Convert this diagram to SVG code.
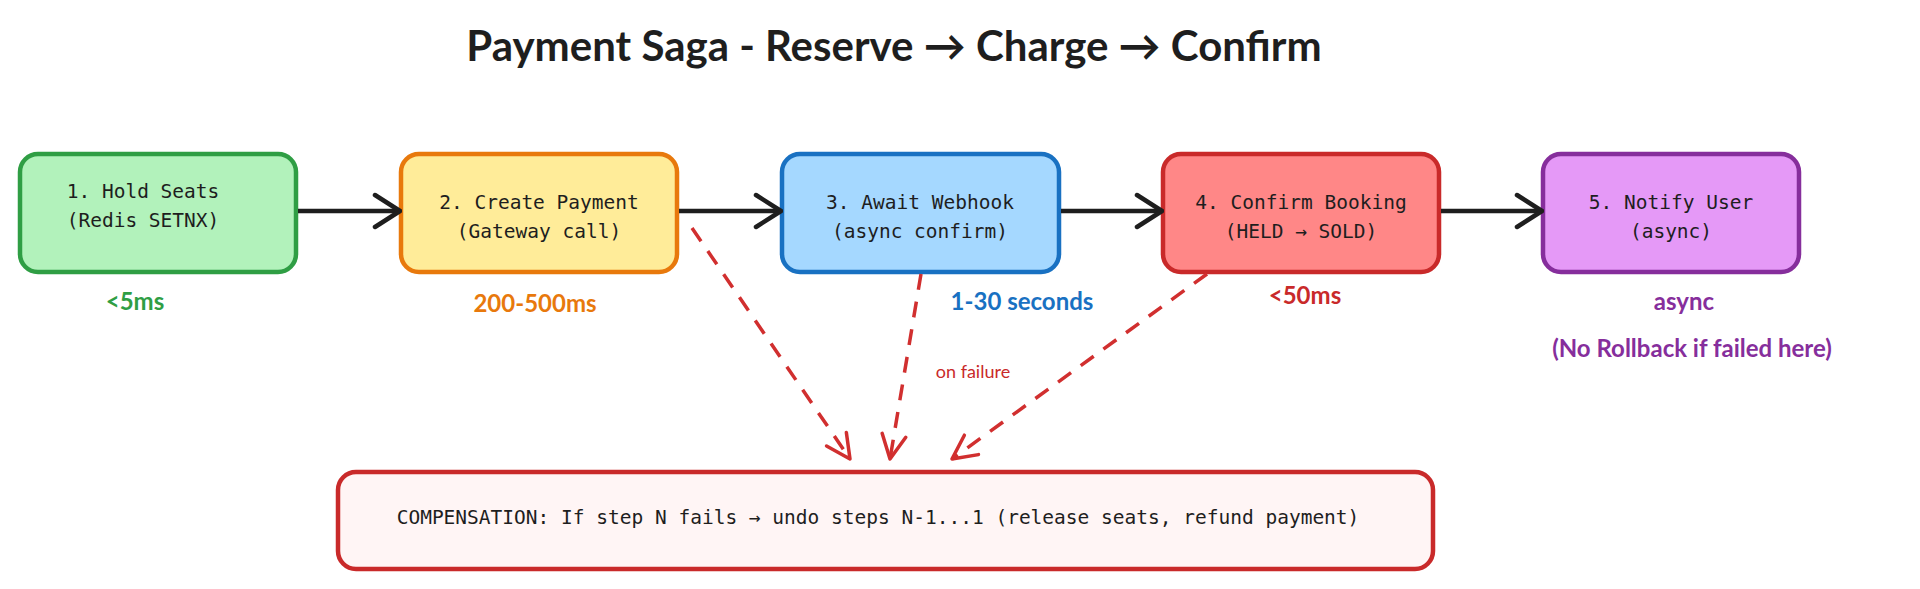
<svg xmlns="http://www.w3.org/2000/svg" width="1920" height="589" viewBox="0 0 1920 589">
<defs>
<marker id="ah" viewBox="0 0 30 40" refX="28" refY="20" markerWidth="30" markerHeight="40" markerUnits="userSpaceOnUse" orient="auto"><path d="M3,4 L28,20 L3,36" fill="none" stroke="#1e1e1e" stroke-width="4.5" stroke-linecap="round" stroke-linejoin="round"/></marker>
<marker id="ahr" viewBox="0 0 30 30" refX="27" refY="15" markerWidth="30" markerHeight="30" markerUnits="userSpaceOnUse" orient="auto"><path d="M3,3 L27,15 L3,27" fill="none" stroke="#d12f2f" stroke-width="3.5" stroke-linecap="round" stroke-linejoin="round"/></marker>
</defs>
<style>
.box{stroke-width:4.5}
.t{font-family:"DejaVu Sans Mono",monospace;font-size:19.5px;fill:#1e1e1e;text-anchor:middle}
.l{font-family:Lato,"Noto Sans",sans-serif;font-size:24px;font-weight:bold;text-anchor:middle}
.c{stroke:#1e1e1e;stroke-width:4.5;fill:none}
.d{stroke:#d12f2f;stroke-width:3.5;fill:none;stroke-dasharray:16 12}
</style>
<rect width="1920" height="589" fill="#fff"/>
<text x="894" y="61" font-family="Lato,sans-serif" font-size="42" font-weight="bold" fill="#1e1e1e" text-anchor="middle">Payment Saga - Reserve → Charge → Confirm</text>
<g id="n1"><rect class="box" x="20" y="154" width="276" height="118" rx="18" fill="#b2f2bb" stroke="#2f9e44"/><text class="t" x="143" y="198">1. Hold Seats</text><text class="t" x="143" y="227">(Redis SETNX)</text></g>
<g id="n2"><rect class="box" x="401" y="154" width="276" height="118" rx="18" fill="#ffec99" stroke="#e8790c"/><text class="t" x="539" y="209">2. Create Payment</text><text class="t" x="539" y="238">(Gateway call)</text></g>
<g id="n3"><rect class="box" x="782" y="154" width="277" height="118" rx="18" fill="#a5d8ff" stroke="#1971c2"/><text class="t" x="920" y="209">3. Await Webhook</text><text class="t" x="920" y="238">(async confirm)</text></g>
<g id="n4"><rect class="box" x="1163" y="154" width="276" height="118" rx="18" fill="#ff8787" stroke="#c92a2a"/><text class="t" x="1301" y="209">4. Confirm Booking</text><text class="t" x="1301" y="238">(HELD → SOLD)</text></g>
<g id="n5"><rect class="box" x="1543" y="154" width="256" height="118" rx="18" fill="#e599f7" stroke="#862e9c"/><text class="t" x="1671" y="209">5. Notify User</text><text class="t" x="1671" y="238">(async)</text></g>
<g id="comp"><rect class="box" x="338" y="472" width="1095" height="97" rx="18" fill="#fff5f5" stroke="#c92a2a"/><text class="t" x="878" y="524" font-size="22.5">COMPENSATION: If step N fails → undo steps N-1...1 (release seats, refund payment)</text></g>
<g id="labels">
<text class="l" x="135" y="310" fill="#2f9e44">&lt;5ms</text>
<text class="l" x="535" y="312" fill="#e8790c">200-500ms</text>
<text class="l" x="1022" y="310" fill="#1971c2">1-30 seconds</text>
<text class="l" x="1305" y="304" fill="#c92a2a">&lt;50ms</text>
<text class="l" x="1684" y="310" fill="#862e9c">async</text>
<text class="l" x="1692" y="357" fill="#862e9c">(No Rollback if failed here)</text>
<text x="973" y="378" font-family="Lato,sans-serif" font-size="18" fill="#c92a2a" text-anchor="middle">on failure</text>
</g>
<g id="connectors">
<path class="c" d="M298,211 L400,211" marker-end="url(#ah)"/>
<path class="c" d="M679,211 L781,211" marker-end="url(#ah)"/>
<path class="c" d="M1061,211 L1162,211" marker-end="url(#ah)"/>
<path class="c" d="M1441,211 L1542,211" marker-end="url(#ah)"/>
<path class="d" d="M692,228 L850,459" marker-end="url(#ahr)"/>
<path class="d" d="M921,274 L890,459" marker-end="url(#ahr)"/>
<path class="d" d="M1207,274 L952,459" marker-end="url(#ahr)"/>
</g>
</svg>
